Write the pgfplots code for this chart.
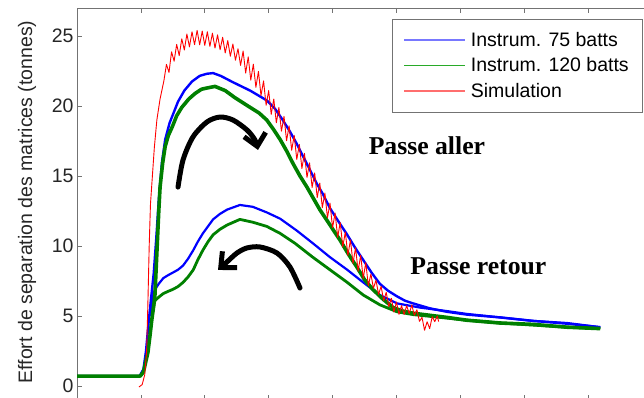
\documentclass[border=0pt]{standalone}
\usepackage{fontspec}
\setmainfont{Liberation Sans}
\newfontfamily\serifbf{Liberation Serif}
\usepackage{pgfplots}
\pgfplotsset{compat=1.18}
\usetikzlibrary{arrows.meta}
\definecolor{legblue}{RGB}{120,120,255}
\definecolor{leggreen}{RGB}{40,170,40}
\definecolor{legred}{RGB}{255,110,110}
\begin{document}
\begin{tikzpicture}[x=1pt,y=1pt,font=\fontsize{19.5}{23}\selectfont]
\path[use as bounding box] (0,0) rectangle (644,398);
\clip (0,0) rectangle (644,398);
\begin{axis}[
  at={(77pt,-2pt)}, anchor=south west, scale only axis,
  width=575pt, height=392pt,
  xmin=0, xmax=9, ymin=-1, ymax=27,
  xtick={1,2,3,4,5,6,7,8}, xticklabels={},
  ytick={0,5,10,15,20,25},
  tick align=inside, major tick length=5pt,
  axis line style={black!55, line width=0.8pt},
  tick style={black!55, line width=0.7pt},
  /pgf/number format/assume math mode=true,
  yticklabel style={font=\fontsize{19.5}{23}\selectfont, text=black!85},
  ylabel={Effort de separation des matrices (tonnes)},
  every axis y label/.style={at={(axis description cs:-0.087,0.505)}, rotate=90, anchor=center, font=\fontsize{19.5}{23}\selectfont, text=black!85},
  legend style={at={(axis description cs:0.7652,0.8533)}, anchor=center,
    draw=none, fill=none, inner sep=0pt, row sep=6pt, column sep=3pt,
    font=\fontsize{19.5}{23}\selectfont},
  legend cell align=left,
  legend image code/.code={\draw[#1] (0pt,0pt) -- (61pt,0pt);},
]
% ---- Instrum. 75 batts (blue) ----
\addplot[blue, line width=2.4pt, line join=round, forget plot] coordinates {
(0,0.71) (0.98,0.71) (1.04,1.2) (1.08,2.5) (1.12,4.5) (1.16,6.3) (1.20,8.0) (1.24,10.5) (1.28,13.3) (1.33,16.0) (1.38,17.6) (1.45,18.8) (1.52,19.6) (1.58,20.3) (1.68,21.1) (1.80,21.75) (1.92,22.15) (2.03,22.3) (2.13,22.35) (2.25,22.15) (2.44,21.7) (2.71,21.1) (2.97,20.4) (3.10,19.8) (3.22,19.0) (3.33,18.2) (3.44,17.3) (3.55,16.3) (3.65,15.4) (3.76,14.4) (3.85,13.7) (3.96,12.7) (4.10,11.7) (4.23,10.8) (4.35,9.9) (4.48,9.0) (4.61,8.1) (4.74,7.3) (4.87,6.8) (5.01,6.4) (5.13,6.1) (5.26,5.9) (5.52,5.55) (5.79,5.3) (6.10,5.1) (6.62,4.9) (7.14,4.65) (7.67,4.45) (8.19,4.2)
};
\addplot[blue, line width=2.2pt, line join=round, forget plot] coordinates {
(8.19,4.2) (7.67,4.5) (7.14,4.65) (6.62,4.9) (6.10,5.15) (5.79,5.35) (5.37,5.6) (5.01,5.9) (4.74,6.5) (4.48,7.4) (4.23,8.3) (3.96,9.2) (3.69,10.2) (3.44,11.1) (3.18,11.95) (2.97,12.4) (2.75,12.8) (2.55,12.93) (2.35,12.6) (2.24,12.3) (2.13,11.9) (2.05,11.4) (1.97,10.9) (1.89,10.3) (1.82,9.7) (1.74,9.1) (1.66,8.6) (1.58,8.3) (1.50,8.1) (1.42,7.9) (1.35,7.7) (1.28,7.3) (1.22,6.9) (1.18,6.3) (1.15,5.0)
};
% ---- Instrum. 120 batts (green) ----
\addplot[green!50!black, line width=3.6pt, line join=round, forget plot] coordinates {
(0,0.71) (0.99,0.71) (1.04,1.0) (1.08,1.8) (1.11,2.4) (1.14,3.5) (1.17,4.7) (1.20,5.7) (1.22,6.5) (1.24,8.5) (1.26,10.5) (1.28,12.5) (1.30,14.2) (1.34,15.9) (1.38,17.1) (1.43,17.9) (1.49,18.5) (1.56,19.3) (1.64,19.9) (1.75,20.5) (1.85,20.9) (1.95,21.2) (2.05,21.3) (2.16,21.4) (2.32,21.1) (2.47,20.6) (2.71,19.9) (2.85,19.5) (2.97,19.0) (3.08,18.3) (3.18,17.6) (3.28,16.8) (3.38,15.9) (3.49,15.0) (3.60,14.2) (3.70,13.4) (3.80,12.6) (3.96,11.5) (4.12,10.4) (4.25,9.4) (4.38,8.5) (4.50,7.6) (4.63,6.9) (4.79,6.2) (4.95,5.6) (5.10,5.35) (5.26,5.2) (5.52,5.05) (5.79,4.9) (6.10,4.7) (6.62,4.5) (7.14,4.4) (7.67,4.2) (8.19,4.1)
};
\addplot[green!50!black, line width=2.8pt, line join=round, forget plot] coordinates {
(8.19,4.1) (7.67,4.2) (7.14,4.35) (6.62,4.5) (6.10,4.7) (5.79,4.85) (5.26,5.1) (5.01,5.3) (4.74,5.8) (4.48,6.5) (4.23,7.4) (3.96,8.3) (3.69,9.2) (3.41,10.2) (3.18,10.9) (2.97,11.4) (2.75,11.7) (2.55,11.9) (2.35,11.5) (2.24,11.2) (2.13,10.8) (2.05,10.3) (1.97,9.7) (1.89,9.0) (1.82,8.3) (1.74,7.8) (1.66,7.4) (1.58,7.1) (1.50,6.9) (1.42,6.75) (1.35,6.6) (1.28,6.35) (1.22,6.1) (1.19,5.5)
};
% ---- Simulation (red) ----
\addplot[red, line width=0.9pt, line join=round, forget plot] coordinates {
(0.97,-0.07) (1.02,0.1) (1.06,0.8) (1.09,2.5) (1.11,6.0) (1.13,10.0) (1.15,13.0) (1.18,15.0) (1.21,17.0) (1.25,19.0) (1.30,20.5) (1.36,21.8)
(1.40,22.97) (1.44,22.4) (1.48,23.87) (1.52,23.2) (1.56,24.4) (1.60,23.6) (1.64,24.8) (1.68,24.0) (1.72,25.14) (1.76,24.22) (1.80,25.3) (1.84,24.38) (1.88,25.4) (1.92,24.37) (1.96,25.35) (2.00,24.33) (2.04,25.3) (2.08,24.26) (2.12,25.2) (2.16,24.14) (2.20,25.08) (2.24,24.02) (2.28,24.91) (2.32,23.79) (2.36,24.67) (2.40,23.55) (2.44,24.43) (2.48,23.27) (2.52,24.09) (2.56,22.9)
(2.60,23.93) (2.64,22.35) (2.68,23.51) (2.72,21.85) (2.76,22.99) (2.80,21.33) (2.84,22.47) (2.88,20.74) (2.92,21.79) (2.96,20.05) (3.00,21.1) (3.04,19.4) (3.08,20.5) (3.12,18.8) (3.16,19.9) (3.20,18.2) (3.24,19.26) (3.28,17.52) (3.32,18.58) (3.36,16.84) (3.40,17.9) (3.44,16.18) (3.48,17.26) (3.52,15.54) (3.56,16.62) (3.60,14.9) (3.64,15.94) (3.68,14.18) (3.72,15.22) (3.76,13.46) (3.80,14.5) (3.84,12.74) (3.88,13.78) (3.92,12.02) (3.96,13.06) (4.00,11.3) (4.04,12.36) (4.08,10.62) (4.12,11.68) (4.16,9.94) (4.20,11.0) (4.24,9.32) (4.28,10.44) (4.32,8.76) (4.36,9.88) (4.40,8.2) (4.44,9.34) (4.48,7.68) (4.52,8.82) (4.56,7.16)
(4.60,8.0) (4.64,6.98) (4.68,7.56) (4.72,6.54) (4.76,7.12) (4.80,6.1) (4.84,6.69) (4.88,5.67) (4.92,6.26) (4.96,5.28) (5.00,6.0) (5.04,5.12) (5.08,5.74) (5.12,5.11) (5.16,5.74) (5.20,5.17) (5.24,5.79) (5.28,5.05) (5.32,5.45) (5.36,4.62) (5.40,4.9) (5.44,3.98) (5.48,4.59) (5.52,4.1) (5.56,4.95) (5.60,4.6) (5.64,5.0) (5.66,4.6)
};
% ---- legend ----
\addlegendimage{legblue, line width=1.6pt}
\addlegendentry{Instrum. 75 batts}
\addlegendimage{leggreen, line width=1.6pt}
\addlegendentry{Instrum. 120 batts}
\addlegendimage{legred, line width=1.6pt}
\addlegendentry{Simulation}
% legend frame
\draw[black!55, line width=0.8pt] (axis description cs:0.5478,0.7347) rectangle (axis description cs:0.9826,0.9719);
% ---- annotation arrows ----
\addplot[black, line width=5pt, smooth, line cap=round, -{Straight Barb[length=12pt,width=22pt]}, forget plot] coordinates {
(1.581,14.21) (1.659,16.14) (1.815,17.79) (2.034,18.86) (2.238,19.21) (2.441,19.0) (2.660,18.29) (2.786,17.57) (2.833,16.86)
};
\addplot[black, line width=5pt, smooth, line cap=round, -{Straight Barb[length=12pt,width=22pt]}, forget plot] coordinates {
(3.49,7.0) (3.333,8.5) (3.13,9.5) (2.864,9.93) (2.66,9.86) (2.504,9.5) (2.347,8.86) (2.207,8.29)
};
\node[font=\serifbf\bfseries\fontsize{25.7}{28}\selectfont, anchor=base] at (axis cs:5.477,16.5) {Passe aller};
\node[font=\serifbf\bfseries\fontsize{25.7}{28}\selectfont, anchor=base] at (axis cs:6.283,7.93) {Passe retour};
\end{axis}
\end{tikzpicture}
\end{document}
